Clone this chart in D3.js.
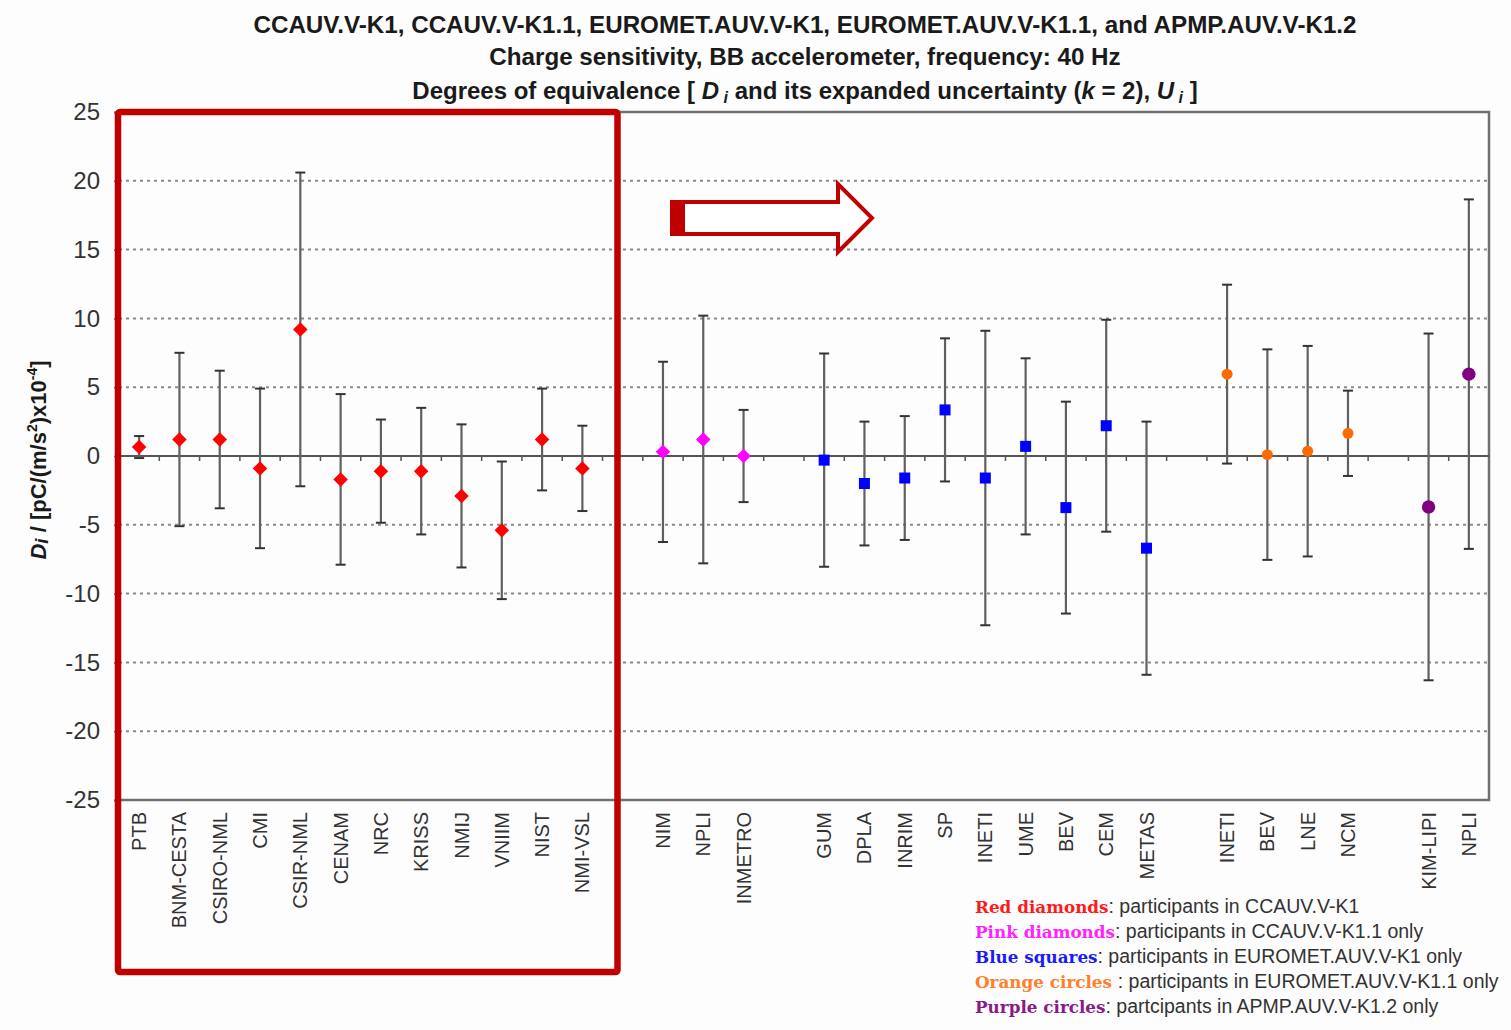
<!DOCTYPE html>
<html>
<head>
<meta charset="utf-8">
<script src="https://cdn.jsdelivr.net/npm/d3@7"></script>
<style>
  body { margin: 0; background: #fdfdfd; }
  svg { display: block; font-family: "Liberation Sans", Arial, sans-serif; }
</style>
</head>
<body>
<svg id="chart" width="1511" height="1030"></svg>
<script>
// values, units pC/(m/s^2) x 10^-4
const yTicks = [25, 20, 15, 10, 5, 0, -5, -10, -15, -20, -25];

const redLabels = ["PTB", "BNM-CESTA", "CSIRO-NML", "CMI", "CSIR-NML", "CENAM", "NRC", "KRISS", "NMIJ", "VNIIM", "NIST", "NMI-VSL"];
const redD = [0.65, 1.2, 1.2, -0.9, 9.2, -1.7, -1.1, -1.1, -2.9, -5.4, 1.2, -0.9];
const redU = [0.8, 6.3, 5.0, 5.8, 11.4, 6.2, 3.75, 4.6, 5.2, 5.0, 3.7, 3.1];

const pinkLabels = ["NIM", "NPLI", "INMETRO"];
const pinkD = [0.3, 1.2, 0.0];
const pinkU = [6.55, 9.0, 3.35];

const blueLabels = ["GUM", "DPLA", "INRIM", "SP", "INETI", "UME", "BEV", "CEM", "METAS"];
const blueD = [-0.3, -2.0, -1.6, 3.35, -1.6, 0.7, -3.75, 2.2, -6.7];
const blueU = [7.75, 4.5, 4.5, 5.2, 10.7, 6.4, 7.7, 7.7, 9.2];

const orangeLabels = ["INETI", "BEV", "LNE", "NCM"];
const orangeD = [5.95, 0.1, 0.35, 1.65];
const orangeU = [6.5, 7.65, 7.65, 3.1];

const purpleLabels = ["KIM-LIPI", "NPLI"];
const purpleD = [-3.7, 5.95];
const purpleU = [12.6, 12.7];

const titleLines = [
  "CCAUV.V-K1, CCAUV.V-K1.1, EUROMET.AUV.V-K1, EUROMET.AUV.V-K1.1, and APMP.AUV.V-K1.2",
  "Charge sensitivity, BB accelerometer, frequency: 40 Hz"
];

const legendNames = ["Red diamonds", "Pink diamonds", "Blue squares", "Orange circles ", "Purple circles"];
const legendTexts = [
  ": participants in CCAUV.V-K1",
  ": participants in CCAUV.V-K1.1 only",
  ": participants in EUROMET.AUV.V-K1 only",
  ": participants in EUROMET.AUV.V-K1.1 only",
  ": partcipants in APMP.AUV.V-K1.2 only"
];

const groups = [
  { key: "red", labels: redLabels, d: redD, u: redU, color: "#ff0000", shape: "diamond" },
  { key: "pink", labels: pinkLabels, d: pinkD, u: pinkU, color: "#ff00ff", shape: "diamond" },
  { key: "blue", labels: blueLabels, d: blueD, u: blueU, color: "#0000ff", shape: "square" },
  { key: "orange", labels: orangeLabels, d: orangeD, u: orangeU, color: "#ff6a00", shape: "circle" },
  { key: "purple", labels: purpleLabels, d: purpleD, u: purpleU, color: "#800080", shape: "circle" }
];
const legendColors = ["#ff1a1a", "#ff22ff", "#1a1aff", "#ff7f2a", "#8a1a8a"];

// one empty category between the groups, like the original sheet
let slots = [];
groups.forEach((g, gi) => {
  if (gi > 0) slots.push({ key: "gap" + gi, label: "" });
  g.labels.forEach((lab, i) => {
    slots.push({ key: g.key + "-" + i, label: lab, d: g.d[i], u: g.u[i], color: g.color, shape: g.shape });
  });
});
const points = slots.filter(s => s.d !== undefined);

const svg = d3.select("#chart");
const plotLeft = 119, plotRight = 1489, plotTop = 112, plotBottom = 800;

const x = d3.scaleBand().domain(slots.map(s => s.key)).range([plotLeft, plotRight]);
const y = d3.scaleLinear().domain([-25, 25]).range([plotBottom, plotTop]);

svg.append("rect").attr("width", 1511).attr("height", 1030).attr("fill", "#fdfdfd");

// dotted gridlines
svg.append("g")
  .selectAll("line")
  .data(yTicks.filter(v => v !== 0 && Math.abs(v) < 25))
  .enter().append("line")
  .attr("x1", plotLeft).attr("x2", plotRight)
  .attr("y1", d => y(d)).attr("y2", d => y(d))
  .attr("stroke", "#8a8a8a")
  .attr("stroke-width", 2)
  .attr("stroke-dasharray", "3,4");

// plot frame
svg.append("rect")
  .attr("x", plotLeft).attr("y", plotTop)
  .attr("width", plotRight - plotLeft).attr("height", plotBottom - plotTop)
  .attr("fill", "none")
  .attr("stroke", "#707070")
  .attr("stroke-width", 2.5);

// zero line with category ticks
svg.append("line")
  .attr("x1", plotLeft).attr("x2", plotRight)
  .attr("y1", y(0)).attr("y2", y(0))
  .attr("stroke", "#555")
  .attr("stroke-width", 2);

svg.append("g")
  .selectAll("line")
  .data(slots.slice(1))
  .enter().append("line")
  .attr("x1", d => x(d.key)).attr("x2", d => x(d.key))
  .attr("y1", y(0)).attr("y2", y(0) + 5)
  .attr("stroke", "#555")
  .attr("stroke-width", 1.5);

// y axis
const yAxis = svg.append("g")
  .attr("transform", `translate(${plotLeft},0)`)
  .call(d3.axisLeft(y).tickValues(yTicks).tickSize(5).tickPadding(14).tickFormat(d => String(d)));
yAxis.select(".domain").attr("stroke", "#707070").attr("stroke-width", 2);
yAxis.selectAll(".tick line").attr("stroke", "#707070").attr("stroke-width", 1.5);
yAxis.selectAll("text")
  .attr("font-size", 24)
  .attr("fill", "#333")
  .attr("font-family", "Liberation Sans, Arial, sans-serif");

// category labels
const xAxis = svg.append("g")
  .attr("transform", `translate(0,${plotBottom})`)
  .call(d3.axisBottom(x).tickSize(0).tickFormat(k => slots.find(s => s.key === k).label));
xAxis.select(".domain").remove();
xAxis.selectAll("text")
  .attr("transform", "rotate(-90)")
  .attr("text-anchor", "end")
  .attr("x", -12)
  .attr("y", 0)
  .attr("dy", "0.35em")
  .attr("font-size", 20)
  .attr("fill", "#333")
  .attr("font-family", "Liberation Sans, Arial, sans-serif");

// error bars
const bars = svg.append("g")
  .selectAll("g")
  .data(points)
  .enter().append("g");

bars.append("line")
  .attr("x1", d => x(d.key) + x.bandwidth() / 2)
  .attr("x2", d => x(d.key) + x.bandwidth() / 2)
  .attr("y1", d => y(d.d + d.u))
  .attr("y2", d => y(d.d - d.u))
  .attr("stroke", "#606060")
  .attr("stroke-width", 2.2);

[1, -1].forEach(sign => {
  bars.append("line")
    .attr("x1", d => x(d.key) + x.bandwidth() / 2 - 5)
    .attr("x2", d => x(d.key) + x.bandwidth() / 2 + 5)
    .attr("y1", d => y(d.d + sign * d.u))
    .attr("y2", d => y(d.d + sign * d.u))
    .attr("stroke", "#333")
    .attr("stroke-width", 2);
});

// markers
const markerPath = d => {
  if (d.shape === "diamond") return d3.symbol(d3.symbolSquare, 105)();
  if (d.shape === "square") return d3.symbol(d3.symbolSquare, 121)();
  if (d.color === "#800080") return d3.symbol(d3.symbolCircle, 140)();
  return d3.symbol(d3.symbolCircle, 95)();
};

svg.append("g")
  .selectAll("path")
  .data(points)
  .enter().append("path")
  .attr("d", markerPath)
  .attr("transform", d => {
    const cx = x(d.key) + x.bandwidth() / 2;
    const rot = d.shape === "diamond" ? " rotate(45)" : "";
    return `translate(${cx},${y(d.d)})${rot}`;
  })
  .attr("fill", d => d.color);

// titles
const titleX = 805;
svg.selectAll(".title")
  .data(titleLines)
  .enter().append("text")
  .attr("class", "title")
  .attr("x", titleX)
  .attr("y", (d, i) => 33 + i * 32)
  .attr("text-anchor", "middle")
  .attr("font-size", 24.2)
  .attr("font-weight", "bold")
  .attr("fill", "#1a1a1a")
  .text(d => d);

const t3 = svg.append("text")
  .attr("x", titleX).attr("y", 99)
  .attr("text-anchor", "middle")
  .attr("font-size", 24)
  .attr("font-weight", "bold")
  .attr("fill", "#1a1a1a");
t3.append("tspan").text("Degrees of equivalence [ ");
t3.append("tspan").attr("font-style", "italic").text("D");
t3.append("tspan").attr("font-style", "italic").attr("font-size", 16).attr("dy", 4).text(" i");
t3.append("tspan").attr("dy", -4).text("  and its expanded uncertainty (");
t3.append("tspan").attr("font-style", "italic").text("k");
t3.append("tspan").text(" = 2), ");
t3.append("tspan").attr("font-style", "italic").text("U");
t3.append("tspan").attr("font-style", "italic").attr("font-size", 16).attr("dy", 4).text(" i");
t3.append("tspan").attr("dy", -4).text(" ]");

// y axis title
const yt = svg.append("text")
  .attr("transform", "translate(46,460) rotate(-90)")
  .attr("text-anchor", "middle")
  .attr("font-size", 22)
  .attr("font-weight", "bold")
  .attr("fill", "#1a1a1a");
yt.append("tspan").attr("font-style", "italic").text("D");
yt.append("tspan").attr("font-style", "italic").attr("font-size", 19).attr("dy", 2).text("i");
yt.append("tspan").attr("dy", -2).text(" / [pC/(m/s");
yt.append("tspan").attr("font-size", 14).attr("dy", -9).text("2");
yt.append("tspan").attr("dy", 9).text(")x10");
yt.append("tspan").attr("font-size", 14).attr("dy", -9).text("-4");
yt.append("tspan").attr("dy", 9).text("]");

// legend
const legend = svg.append("g");
legendNames.forEach((name, i) => {
  const t = legend.append("text")
    .attr("x", 975)
    .attr("y", 913 + i * 25)
    .attr("font-size", 19.5)
    .attr("fill", "#333");
  t.append("tspan")
    .attr("font-family", "DejaVu Serif, serif")
    .attr("font-weight", "bold")
    .attr("font-size", 16.8)
    .attr("fill", legendColors[i])
    .text(name);
  t.append("tspan").text(legendTexts[i]);
});

// red highlight box and arrow
svg.append("rect")
  .attr("x", 118).attr("y", 112)
  .attr("width", 499.5).attr("height", 860)
  .attr("rx", 2)
  .attr("fill", "none")
  .attr("stroke", "#c00000")
  .attr("stroke-width", 6.5);

const arrow = [[672, 202], [838, 202], [838, 184], [872, 218], [838, 252], [838, 234], [672, 234]];
svg.append("path")
  .attr("d", d3.line()(arrow) + "Z")
  .attr("fill", "#ffffff")
  .attr("stroke", "#c00000")
  .attr("stroke-width", 4);
svg.append("rect")
  .attr("x", 672).attr("y", 201)
  .attr("width", 13).attr("height", 34)
  .attr("fill", "#c00000");
</script>
</body>
</html>
